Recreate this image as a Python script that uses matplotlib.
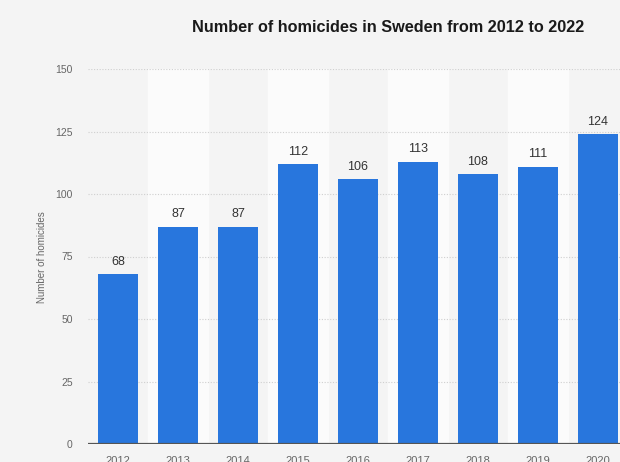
import matplotlib
matplotlib.use('Agg')
import matplotlib.pyplot as plt

years = ['2012', '2013', '2014', '2015', '2016', '2017', '2018', '2019', '2020']
homicides = [68, 87, 87, 112, 106, 113, 108, 111, 124]
# the chart covers 2012-2022, the last columns fall outside the picture
n_columns = 11
y_ticks = [0, 25, 50, 75, 100, 125, 150]

plt.rcParams['font.family'] = ['Liberation Sans', 'DejaVu Sans']

fig = plt.figure(figsize=(6.2, 4.62), dpi=100)
fig.patch.set_facecolor('#f4f4f4')

# axes run past the right and bottom edges, like the cropped screenshot
ax = fig.add_axes([88 / 620, 18 / 462, 660 / 620, 375 / 462])
ax.set_facecolor('#f4f4f4')

x = list(range(len(years)))
for i in range(n_columns):
    if i % 2 == 1:
        ax.axvspan(i - 0.5, i + 0.5, color='#fbfbfb', zorder=0)

for t in y_ticks[1:]:
    ax.axhline(t, color='#cfcfcf', lw=0.8, ls=(0, (1, 1.5)), zorder=1)

bars = ax.bar(x, homicides, width=0.68, color='#2876dd', zorder=2)
for xi, v in zip(x, homicides):
    ax.text(xi, v + 2.5, str(v), ha='center', va='bottom', fontsize=9, color='#333333')

ax.axhline(0, color='#555555', lw=1.6, zorder=3)

ax.set_xlim(-0.5, n_columns - 0.5)
ax.set_ylim(0, 150)
ax.set_yticks(y_ticks)
ax.set_yticklabels([str(t) for t in y_ticks], fontsize=7.5, color='#666666')
ax.set_xticks(x)
ax.set_xticklabels(years, fontsize=8, color='#666666')
ax.tick_params(length=0)
ax.tick_params(axis='y', pad=11)
ax.tick_params(axis='x', pad=9)
for s in ax.spines.values():
    s.set_visible(False)

fig.text(42 / 620, 1 - 257 / 462, 'Number of homicides', rotation=90,
         ha='center', va='center', fontsize=7, color='#666666')
fig.text(388 / 620, 1 - 28 / 462, 'Number of homicides in Sweden from 2012 to 2022',
         ha='center', va='center', fontsize=11.7, fontweight='bold', color='#1a1a1a')

fig.savefig('out.png', dpi=100, facecolor=fig.get_facecolor())
